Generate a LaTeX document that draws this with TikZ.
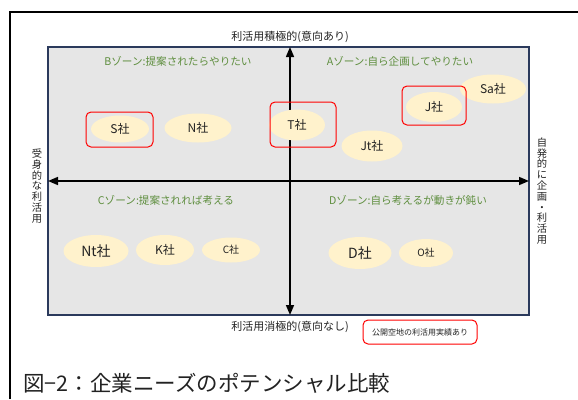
\documentclass[tikz,border=0pt]{standalone}
\usepackage{fontspec}
\setmainfont{Noto Sans CJK JP}
\usetikzlibrary{arrows.meta,shapes.geometric}
\definecolor{zonegray}{HTML}{E6E6E6}
\definecolor{navy}{HTML}{2B3A5C}
\definecolor{zonegreen}{HTML}{5E8E3E}
\definecolor{cream}{HTML}{FFF2CC}
\definecolor{txt}{HTML}{222222}
\tikzset{
  comp/.style={ellipse, fill=cream, draw=none, inner sep=0pt, text=txt},
  redbox/.style={draw=red, line width=1pt, rounded corners=5pt, inner sep=0pt, fill=none},
  zonelbl/.style={text=zonegreen, font=\fontsize{10.6}{12}\selectfont, inner sep=0pt},
  axlbl/.style={text=txt, font=\fontsize{11}{13}\selectfont, inner sep=0pt},
  vlbl/.style={text=txt, font=\fontsize{10.3}{10.8}\selectfont, align=center, inner sep=0pt},
  axarrow/.style={line width=1.5pt, {Triangle[length=10pt,width=8pt]}-{Triangle[length=10pt,width=8pt]}},
}
\begin{document}
\begin{tikzpicture}[x=1pt,y=-1pt]
\useasboundingbox (0,0) rectangle (578,399);
% outer frame (left and top)
\draw[line width=2pt] (10,399) -- (10,12) -- (578,12);
% gray zone box
\node[draw=navy, fill=zonegray, line width=1.2pt, minimum width=481pt, minimum height=268pt, inner sep=0pt] (box) at (288.5,181) {};
% axes
\coordinate (top) at (290,47);
\coordinate (bot) at (290,315);
\coordinate (lft) at (48,181);
\coordinate (rgt) at (529,181);
\draw[axarrow] (top) -- (bot);
\draw[axarrow] (lft) -- (rgt);
% axis labels
\node[axlbl] (toplbl) at (290,37) {利活用積極的(意向あり)};
\node[axlbl] (botlbl) at (290,327) {利活用消極的(意向なし)};
\node[vlbl] (lftlbl) at (37,186) {受\\身\\的\\な\\利\\活\\用};
\node[vlbl] (rgtlbl) at (542,191) {自\\発\\的\\に\\企\\画\\・\\利\\活\\用};
% zone labels
\node[zonelbl] (zB) at (178,61) {Bゾーン:提案されたらやりたい};
\node[zonelbl] (zA) at (400,61) {Aゾーン:自ら企画してやりたい};
\node[zonelbl] (zC) at (166,200) {Cゾーン:提案されれば考える};
\node[zonelbl] (zD) at (408,200) {Dゾーン:自ら考えるが動きが鈍い};
% companies
\node[comp, minimum width=58pt, minimum height=27pt, font=\fontsize{12}{13}\selectfont] (S) at (120,129) {S社};
\node[comp, minimum width=67pt, minimum height=29pt, font=\fontsize{12}{13}\selectfont] (N) at (198,128) {N社};
\node[comp, minimum width=56pt, minimum height=31pt, font=\fontsize{12}{13}\selectfont] (T) at (297,125) {T社};
\node[comp, minimum width=56pt, minimum height=30pt, font=\fontsize{12}{13}\selectfont] (J) at (434,107) {J社};
\node[comp, minimum width=66pt, minimum height=29pt, font=\fontsize{12}{13}\selectfont] (Sa) at (493,89) {Sa社};
\node[comp, minimum width=61pt, minimum height=31pt, font=\fontsize{12}{13}\selectfont] (Jt) at (372,146) {Jt社};
\node[comp, minimum width=65pt, minimum height=32pt, font=\fontsize{14}{15}\selectfont] (Nt) at (96,251) {Nt社};
\node[comp, minimum width=58pt, minimum height=30pt, font=\fontsize{12}{14}\selectfont] (K) at (165,250) {K社};
\node[comp, minimum width=58pt, minimum height=25pt, font=\fontsize{10}{12}\selectfont] (C) at (231,250) {C社};
\node[comp, minimum width=63pt, minimum height=32pt, font=\fontsize{14}{15}\selectfont] (D) at (360,253) {D社};
\node[comp, minimum width=54pt, minimum height=28pt, font=\fontsize{10}{12}\selectfont] (O) at (426,253) {O社};
% red boxes (usage record)
\node[redbox, minimum width=67pt, minimum height=35pt] (Sbox) at (119.5,129.5) {};
\node[redbox, minimum width=66pt, minimum height=45pt] (Tbox) at (303,124.5) {};
\node[redbox, minimum width=64pt, minimum height=39pt] (Jbox) at (434,105.5) {};
% legend
\node[redbox, minimum width=114pt, minimum height=24pt, font=\fontsize{8}{9}\selectfont, text=txt] (legend) at (420,332) {公開空地の利活用実績あり};
% caption
\node[anchor=west, inner sep=0pt, text=txt, font=\fontsize{21.5}{24}\selectfont] (caption) at (23,383) {図−2：企業ニーズのポテンシャル比較};
\end{tikzpicture}
\end{document}
